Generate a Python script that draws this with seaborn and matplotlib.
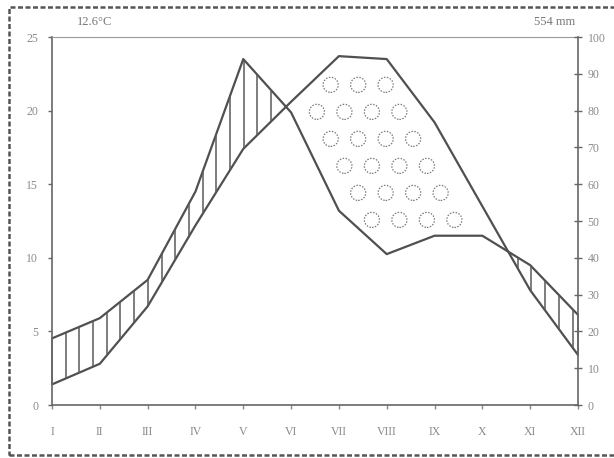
import numpy as np
import pandas as pd
import matplotlib
matplotlib.use("Agg")
import matplotlib.pyplot as plt
import seaborn as sns
from matplotlib.patches import Rectangle

# ---- data ----
months = ["I", "II", "III", "IV", "V", "VI", "VII", "VIII", "IX", "X", "XI", "XII"]
temp_c = [1.4, 2.8, 6.7, 12.2, 17.4, 20.6, 23.7, 23.5, 19.2, 13.5, 7.8, 3.4]
precip_mm = [18.1, 23.6, 34.0, 58.0, 94.0, 79.5, 52.8, 41.0, 46.0, 46.0, 38.0, 24.5]
temp_ticks = [0, 5, 10, 15, 20, 25]
precip_ticks = [0, 10, 20, 30, 40, 50, 60, 70, 80, 90, 100]
mean_label = "12.6\u00b0C"
total_label = "554 mm"

# ---- style ----
sns.set_style("white")
plt.rcParams['font.family'] = ['Liberation Serif', 'DejaVu Serif']
line_c = "#505050"
hatch_c = "#5a5a5a"
lab_c = "#8a8a8a"

W, H = 614, 458
fig = plt.figure(figsize=(W / 100, H / 100), dpi=100)
ax = fig.add_axes([52 / W, 53 / H, 526 / W, 368 / H])

xm = np.arange(len(months))
df = pd.DataFrame({"m": xm, "temp": temp_c, "prec": np.array(precip_mm) / 4.0})

sns.lineplot(data=df, x="m", y="temp", ax=ax, color=line_c, lw=1.6, clip_on=False)
sns.lineplot(data=df, x="m", y="prec", ax=ax, color=line_c, lw=1.6, clip_on=False)

# humid period: vertical hatching where precipitation above temperature
xs = np.append(np.arange(0, 11.0, 0.2865), 11.0)
t_i = np.interp(xs, df["m"], df["temp"])
p_i = np.interp(xs, df["m"], df["prec"])
mask = p_i > t_i
ax.vlines(xs[mask], t_i[mask], p_i[mask], color=hatch_c, lw=1.1, clip_on=False)

# arid period: lattice of dotted circles fully inside region temp > precip
dx, dy = 0.575, 1.835
x0, y0 = 6.69, 12.575
rx, ry = 0.157, 0.51
ang = np.linspace(0, 2 * np.pi, 48, endpoint=False)
cx, cy = [], []
for k in range(-4, 10):
    for i in range(-14, 14):
        xc = x0 + i * dx - (k % 2) * dx / 2
        yc = y0 + k * dy
        px = xc + rx * 1.12 * np.cos(ang)
        py = yc + ry * 1.12 * np.sin(ang)
        if px.min() < 0 or px.max() > 11:
            continue
        tt = np.interp(px, df["m"], df["temp"])
        pp = np.interp(px, df["m"], df["prec"])
        if np.all((py < tt) & (py > pp)):
            cx.append(xc)
            cy.append(yc)
ax.scatter(cx, cy, s=118, facecolors="none", edgecolors="#7a7a7a",
           linewidths=0.9, linestyle=(0, (1.2, 1.2)), zorder=3)

ax.set_xlim(0, 11)
ax.set_ylim(0, 25)
ax.set_xticks(xm)
ax.set_xticklabels(months)
ax.set_yticks(temp_ticks)
ax.set_xlabel("")
ax.set_ylabel("")

ax2 = ax.twinx()
ax2.set_ylim(0, 100)
ax2.set_yticks(precip_ticks)

for a in (ax, ax2):
    for s in a.spines.values():
        s.set_visible(False)
ax.spines["left"].set_visible(True)
ax.spines["left"].set_color("#666666")
ax.spines["left"].set_linewidth(1.2)
ax.spines["bottom"].set_visible(True)
ax.spines["bottom"].set_color("#666666")
ax.spines["bottom"].set_linewidth(1.2)
ax.spines["bottom"].set_linestyle((0, (1.5, 1)))
ax.spines["top"].set_visible(True)
ax.spines["top"].set_color("#9a9a9a")
ax.spines["top"].set_linewidth(0.8)
ax.spines["top"].set_linestyle((0, (1, 1)))
ax2.spines["right"].set_visible(True)
ax2.spines["right"].set_color("#666666")
ax2.spines["right"].set_linewidth(1.2)

ax.tick_params(axis="y", direction="out", length=3, width=1, color="#666666",
               labelsize=8.5, labelcolor=lab_c, pad=7, left=True)
ax.tick_params(axis="x", direction="out", length=3, width=1, color="#888888",
               labelsize=8.5, labelcolor=lab_c, pad=12, bottom=True)
ax2.tick_params(axis="y", direction="inout", length=6, width=1, color="#666666",
                labelsize=8.5, labelcolor=lab_c, pad=4, right=True)

fig.text(95 / W, 1 - 22 / H, mean_label, ha="center", va="center",
         fontsize=9, color="#777777")
fig.text(555 / W, 1 - 22 / H, total_label, ha="center", va="center",
         fontsize=9, color="#777777")

frame = Rectangle((9 / W, 3 / H), 1.2, 448 / H, transform=fig.transFigure,
                  fill=False, edgecolor="#555555", lw=1.8, linestyle=(0, (2, 1)))
fig.patches.append(frame)

fig.savefig("out.png", dpi=100)
